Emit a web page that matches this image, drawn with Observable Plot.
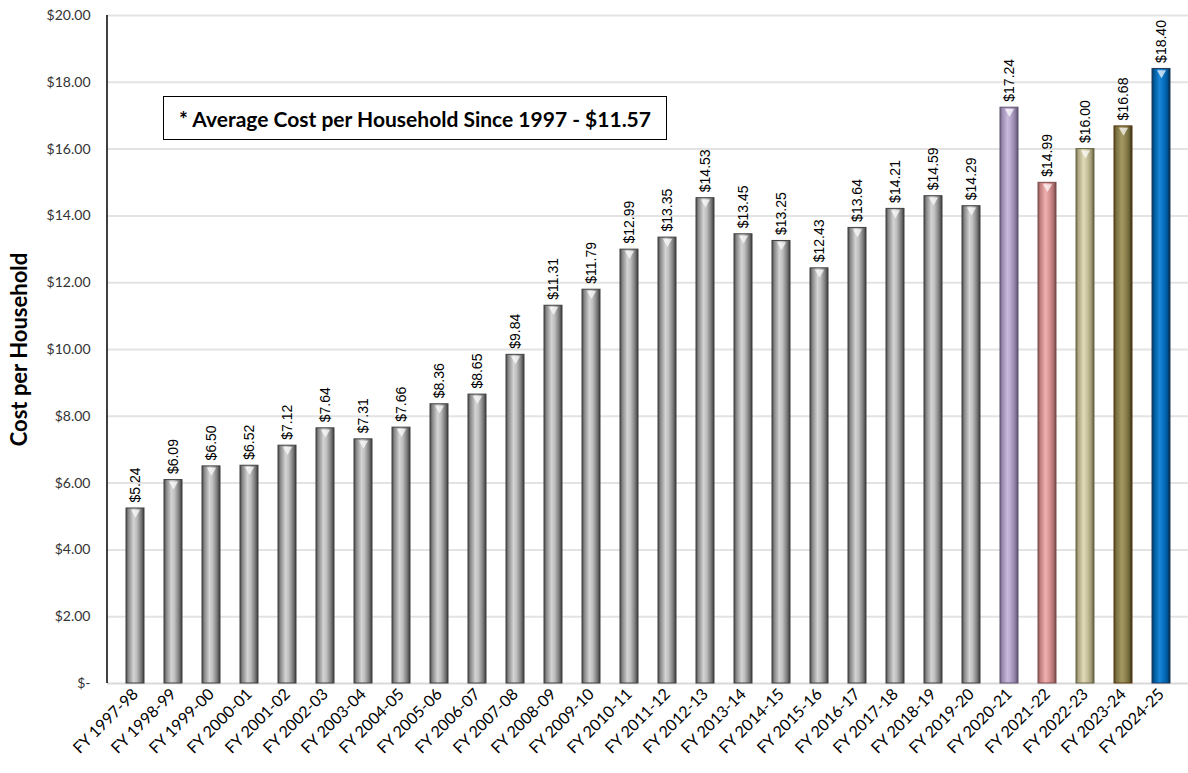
<!DOCTYPE html>
<html>
<head>
<meta charset="utf-8">
<script src="https://cdn.jsdelivr.net/npm/d3@7"></script>
<script src="https://cdn.jsdelivr.net/npm/@observablehq/plot@0.6"></script>
<style>
  html, body { margin: 0; padding: 0; background: #fff; }
  #wrap { position: relative; width: 1188px; height: 773px; }
  #avg {
    position: absolute; left: 163px; top: 96px; width: 504px; height: 44px;
    border: 1.5px solid #000; background: #fff; box-sizing: border-box;
    font: bold 21px Lato, "Open Sans", sans-serif; color: #000;
    display: flex; align-items: center; justify-content: center; white-space: pre;
  }
</style>
</head>
<body>
<div id="wrap"></div>
<script>
const years = ["FY 1997-98","FY 1998-99","FY 1999-00","FY 2000-01","FY 2001-02","FY 2002-03","FY 2003-04","FY 2004-05","FY 2005-06","FY 2006-07","FY 2007-08","FY 2008-09","FY 2009-10","FY 2010-11","FY 2011-12","FY 2012-13","FY 2013-14","FY 2014-15","FY 2015-16","FY 2016-17","FY 2017-18","FY 2018-19","FY 2019-20","FY 2020-21","FY 2021-22","FY 2022-23","FY 2023-24","FY 2024-25"];
const costs = [5.24,6.09,6.50,6.52,7.12,7.64,7.31,7.66,8.36,8.65,9.84,11.31,11.79,12.99,13.35,14.53,13.45,13.25,12.43,13.64,14.21,14.59,14.29,17.24,14.99,16.00,16.68,18.40];
const barStyles = ["gray","gray","gray","gray","gray","gray","gray","gray","gray","gray","gray","gray","gray","gray","gray","gray","gray","gray","gray","gray","gray","gray","gray","purple","pink","khaki","olive","blue"];
const yTicks = [0,2,4,6,8,10,12,14,16,18,20];
const yTitle = "Cost per Household";
const avgNote = "* Average Cost per Household Since 1997 - $11.57";

const palette = {
  gray:   ["#4a4a4a","#8a8a8a","#d4d4d4","#bdbdbd","#7a7a7a","#3a3a3a"],
  purple: ["#6f6180","#9e8db3","#c9b9dc","#b7a5cc","#8f7fa3","#5a4e69"],
  pink:   ["#8a5554","#c28180","#f0b0ae","#dc9897","#b37473","#6e4443"],
  khaki:  ["#76704f","#aea884","#e0dab8","#cdc6a1","#a29c78","#5f5a3f"],
  olive:  ["#4f4722","#7c7242","#a39863","#948a54","#6f6638","#2e2912"],
  blue:   ["#003a66","#005ba0","#1a86d6","#0a74c6","#005a9e","#00253f"]
};
const edge = {gray:"#404040", purple:"#5e5270", pink:"#7a4f4e", khaki:"#6b6648", olive:"#5a3a10", blue:"#1f3a5a"};

const data = years.map((y, i) => ({year: y, cost: costs[i], style: barStyles[i]}));

const W = 1188, H = 773, mL = 107, mR = 0, mT = 15, mB = 90;
const fmt = v => v === 0 ? "$-" : "$" + v.toFixed(2);

// move each label's transform onto a wrapping <g>, so the rotation is applied by the group
function wrapRotated(index, scales, values, dimensions, context, next) {
  const g = next(index, scales, values, dimensions, context);
  const ns = "http://www.w3.org/2000/svg";
  for (const t of Array.from(g.querySelectorAll("text"))) {
    const tr = t.getAttribute("transform");
    const m = /translate\(([-\d.e]+),\s*([-\d.e]+)\)/.exec(tr || "");
    const w = document.createElementNS(ns, "g");
    w.setAttribute("transform", m ? `translate(${(+m[1]).toFixed(1)},${(+m[2]).toFixed(1)})` : "");
    const r = document.createElementNS(ns, "g");
    r.setAttribute("transform", "rotate(-90)");
    t.removeAttribute("transform");
    t.parentNode.replaceChild(w, t);
    w.appendChild(r);
    r.appendChild(t);
  }
  return g;
}

const plot = Plot.plot({
  width: W, height: H,
  marginLeft: mL, marginRight: mR, marginTop: mT, marginBottom: mB,
  style: {fontFamily: "Lato, 'Open Sans', sans-serif", fontSize: "14px", color: "#000", background: "#fff"},
  x: {domain: years, paddingInner: 0.53, paddingOuter: 0.265, label: null},
  y: {domain: [0, 20], label: null},
  color: {type: "identity"},
  marks: [
    Plot.gridY(yTicks.filter(d => d > 0), {stroke: "#e3e3e3", strokeOpacity: 1, strokeWidth: 2}),
    Plot.ruleY([0], {stroke: "#d9d9d9", strokeWidth: 2}),
    Plot.axisY({ticks: yTicks, tickFormat: fmt, tickSize: 0, tickPadding: 17, fontSize: 14, fill: "#333"}),
    Plot.axisX({tickSize: 0, tickPadding: 8, tickRotate: -45, fontSize: 16, fill: "#000"}),
    Plot.barY(data, {x: "year", y: "cost", fill: d => `url(#grad-${d.style})`, stroke: d => edge[d.style], strokeWidth: 1}),
    Plot.dot(data, {x: "year", y: "cost", symbol: "triangle", rotate: 180, r: 3.4, dy: 4, fill: "#ffffff", fillOpacity: 0.7, stroke: "none"}),
    Plot.text(data, {x: "year", y: "cost", text: d => fmt(d.cost), rotate: -90, textAnchor: "start", dy: -6,
      fontFamily: "'Liberation Sans', Arial, sans-serif", fontSize: 14, fill: "#000", render: wrapRotated}),
    Plot.text([yTitle], {frameAnchor: "left", textAnchor: "middle", dx: -88, rotate: -90, text: d => d,
      fontFamily: "Lato, 'Open Sans', sans-serif", fontWeight: "bold", fontSize: 22, fill: "#000"})
  ]
});

const svg = d3.select(plot);
const defs = svg.insert("defs", ":first-child");
const offsets = [0, 0.14, 0.42, 0.6, 0.84, 1];
for (const [name, cols] of Object.entries(palette)) {
  const g = defs.append("linearGradient").attr("id", "grad-" + name)
    .attr("x1", 0).attr("x2", 1).attr("y1", 0).attr("y2", 0);
  offsets.forEach((o, i) => g.append("stop").attr("offset", o).attr("stop-color", cols[i]));
}
svg.append("line").attr("x1", mL).attr("x2", mL).attr("y1", mT).attr("y2", H - mB)
  .attr("stroke", "#000").attr("stroke-width", 1.5);

const wrap = document.getElementById("wrap");
wrap.appendChild(plot);
const note = document.createElement("div");
note.id = "avg";
note.textContent = avgNote;
wrap.appendChild(note);
</script>
</body>
</html>
